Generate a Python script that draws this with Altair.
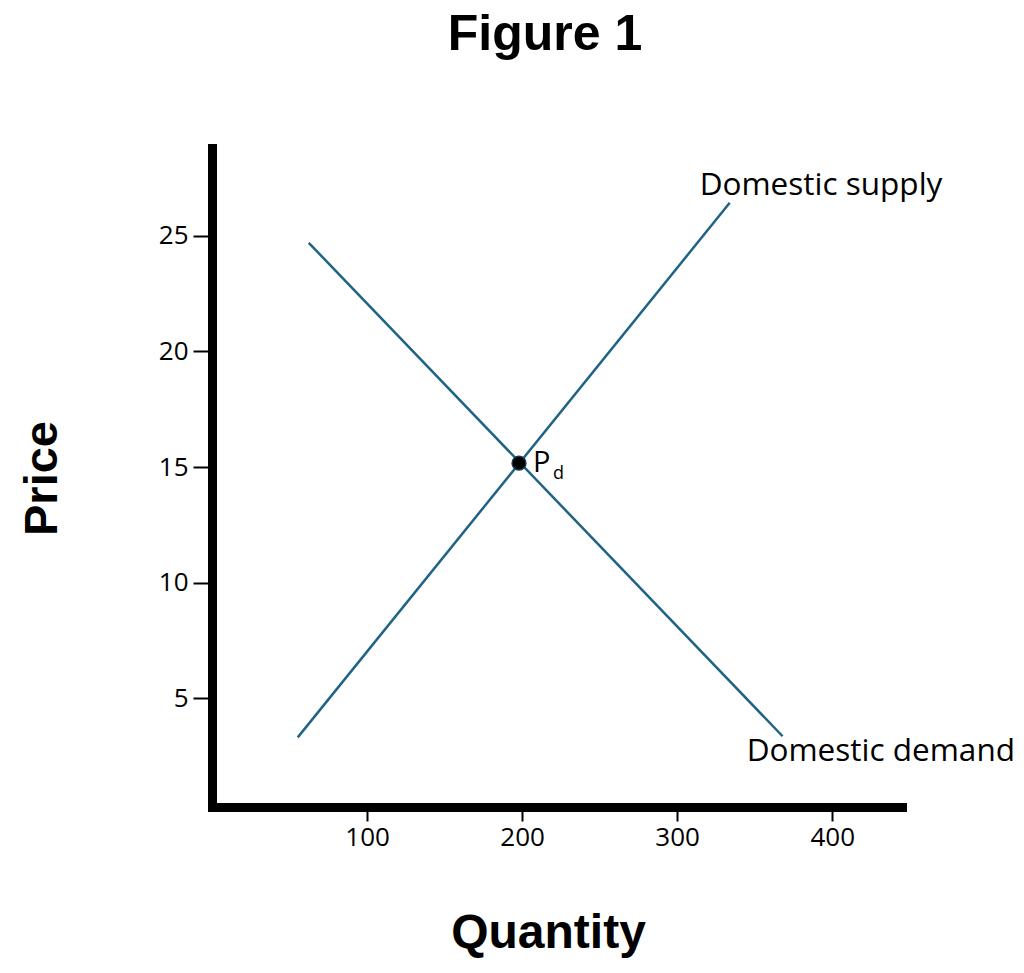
import altair as alt
import pandas as pd

# ---- data ----
title_text = "Figure 1"
x_title = "Quantity"
y_title = "Price"
x_ticks = [100, 200, 300, 400]
y_ticks = [5, 10, 15, 20, 25]

supply_q = [55.3, 333.9]
supply_p = [3.31, 26.43]
demand_q = [62.4, 368.0]
demand_p = [24.7, 3.36]

eq_q = [198.0]
eq_p = [15.17]

label_text = ["Domestic supply", "Domestic demand"]
label_q = [314.5, 344.8]
label_p = [26.77, 2.27]

pd_main_text = ["P"]
pd_main_q = [207.0]
pd_main_p = [14.8]
pd_sub_text = ["d"]
pd_sub_q = [219.9]
pd_sub_p = [14.47]

# ---- tables ----
lines_df = pd.DataFrame({
    "q": supply_q + demand_q,
    "p": supply_p + demand_p,
    "series": ["supply"] * len(supply_q) + ["demand"] * len(demand_q),
})
eq_df = pd.DataFrame({"q": eq_q, "p": eq_p})
labels_df = pd.DataFrame({"q": label_q, "p": label_p, "t": label_text})
pmain_df = pd.DataFrame({"q": pd_main_q, "p": pd_main_p, "t": pd_main_text})
psub_df = pd.DataFrame({"q": pd_sub_q, "p": pd_sub_p, "t": pd_sub_text})

LINE_COLOR = "#1f6385"
LABEL_FONT = "Open Sans"
TITLE_FONT = "Liberation Sans"

x_scale = alt.Scale(domain=[0, 445], nice=False, zero=False)
y_scale = alt.Scale(domain=[0.3, 28.8], nice=False, zero=False)

x_enc = alt.X(
    "q:Q", scale=x_scale, title=x_title,
    axis=alt.Axis(
        values=x_ticks, grid=False,
        domainWidth=9, domainColor="black", domainCap="square",
        tickSize=14, tickWidth=2, tickColor="black",
        labelFont=LABEL_FONT, labelFontSize=26, labelColor="black", labelPadding=3,
        titleFont=TITLE_FONT, titleFontSize=48, titleFontWeight="bold", titleColor="black",
        titleX=336, titleY=126, titleAlign="center", titleBaseline="middle", titleAnchor="start",
    ),
)
y_enc = alt.Y(
    "p:Q", scale=y_scale, title=y_title,
    axis=alt.Axis(
        values=y_ticks, grid=False,
        domainWidth=9, domainColor="black", domainCap="square",
        tickSize=19, tickWidth=2, tickColor="black",
        labelFont=LABEL_FONT, labelFontSize=26, labelColor="black", labelPadding=5,
        titleFont=TITLE_FONT, titleFontSize=47, titleFontWeight="bold", titleColor="black",
        titleX=-170, titleY=330, titleAlign="center", titleBaseline="middle", titleAnchor="start",
        titleAngle=270,
    ),
)

base_lines = alt.Chart(lines_df).mark_line(
    color=LINE_COLOR, strokeWidth=2.5
).encode(x=x_enc, y=y_enc, detail="series:N")

point = alt.Chart(eq_df).mark_point(
    filled=True, color="black", size=190, opacity=1,
    stroke="#16384a", strokeWidth=1.5,
).encode(x="q:Q", y="p:Q")

labels = alt.Chart(labels_df).mark_text(
    font=LABEL_FONT, fontSize=31.5, color="black", align="left", baseline="alphabetic"
).encode(x="q:Q", y="p:Q", text="t:N")

pmain = alt.Chart(pmain_df).mark_text(
    font=LABEL_FONT, fontSize=29, color="black", align="left", baseline="alphabetic"
).encode(x="q:Q", y="p:Q", text="t:N")

psub = alt.Chart(psub_df).mark_text(
    font=LABEL_FONT, fontSize=18, color="black", align="left", baseline="alphabetic"
).encode(x="q:Q", y="p:Q", text="t:N")

chart = alt.layer(base_lines, point, labels, pmain, psub).properties(
    width=690,
    height=659,
    background="white",
    title=alt.TitleParams(
        title_text, font=TITLE_FONT, fontSize=50, fontWeight="bold", color="black",
        anchor="middle", dx=-12, offset=88,
    ),
    autosize=alt.AutoSizeParams(type="none"),
    padding={"left": 204, "top": 140, "right": 114, "bottom": 155},
).configure_view(strokeWidth=0, stroke="transparent")

chart.save("out.html", embed_options={"renderer": "svg", "actions": False})
